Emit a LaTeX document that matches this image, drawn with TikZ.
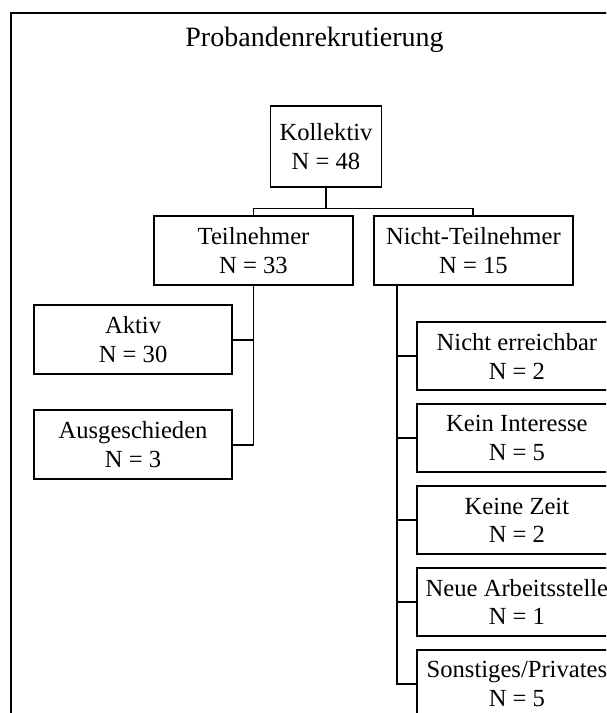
\documentclass[tikz,border=0pt]{standalone}
\usepackage{fontspec}
\setmainfont{Liberation Serif}
\usetikzlibrary{positioning}
\tikzstyle{kasten}=[rectangle,draw=black,line width=1.9pt,minimum width=199pt,minimum height=69pt,inner sep=0pt,align=center,font=\fontsize{24.6pt}{28.5pt}\selectfont]
\tikzstyle{wurzel}=[kasten,minimum width=111pt,minimum height=81pt]
\tikzstyle{seite}=[kasten,minimum width=198pt]
\tikzstyle{grund}=[kasten,minimum width=200pt,minimum height=68pt]
\tikzstyle{rahmen}=[rectangle,draw=black,line width=1.9pt,minimum width=609pt,minimum height=750pt,anchor=north west]
\tikzstyle{titel}=[font=\fontsize{28pt}{32pt}\selectfont,anchor=base]
\tikzstyle{linie}=[line width=1.9pt]

\begin{document}
\begin{tikzpicture}[x=1pt,y=-1pt]
	\useasboundingbox (0,0) rectangle (606,713);
	\clip (0,0) rectangle (606,713);
	\node[rahmen] (rahmen) at (10,12) {};
	\begin{scope}[node distance=12pt]
		\node[titel]	(titel)	at (314.5,46)	{Probandenrekrutierung};
		\node[wurzel]	(koll)	at (326,146.5)	{Kollektiv\\N = 48};
		\node[kasten]	(teiln)	[below=27pt of koll,xshift=-72.5pt]	{Teilnehmer\\N = 33};
		\node[kasten]	(nteiln)	[right=19pt of teiln]	{Nicht-Teilnehmer\\N = 15};
		\node[seite]	(aktiv)	[below left=18.5pt and 20.5pt of teiln.south,anchor=north east]	{Aktiv\\N = 30};
		\node[seite]	(ausg)	[below=34pt of aktiv]	{Ausgeschieden\\N = 3};
		\node[grund]	(erreich)	[below right=35.5pt and 43pt of nteiln.south west,anchor=north west]	{Nicht erreichbar\\N = 2};
		\node[grund]	(interesse)	[below=of erreich]	{Kein Interesse\\N = 5};
		\node[grund]	(zeit)	[below=of interesse]	{Keine Zeit\\N = 2};
		\node[grund]	(arbeit)	[below=of zeit]	{Neue Arbeitsstelle\\N = 1};
		\node[grund]	(sonst)	[below=of arbeit]	{Sonstiges/Privates\\N = 5};
		\coordinate	(gabel)	at ([yshift=-20.5pt]koll.south);
		\coordinate	(stamm)	at ([xshift=24pt]nteiln.south west);
		\draw[linie]	(koll) -- (gabel);
		\draw[linie]	(teiln.north) |- (gabel) -| (nteiln.north);
		\draw[linie]	(teiln.south) |- (ausg.east);
		\draw[linie]	(aktiv.east) -- (aktiv.east -| teiln.south);
		\draw[linie]	(stamm) |- (sonst.west);
		\foreach \n in {erreich,interesse,zeit,arbeit}
			\draw[linie]	(\n.west) -- (\n.west -| stamm);
	\end{scope}
\end{tikzpicture}
\end{document}
